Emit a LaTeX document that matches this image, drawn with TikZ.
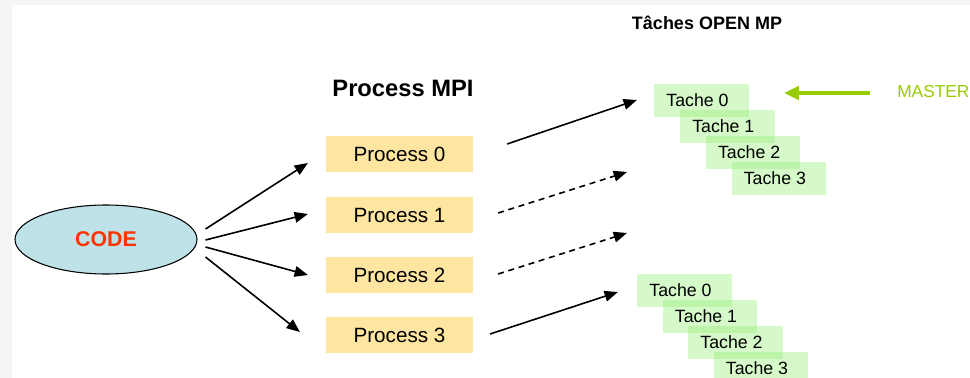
\documentclass[tikz,border=0pt]{standalone}
\usepackage{fontspec}
\setmainfont{Liberation Sans}
\usetikzlibrary{shapes.geometric,arrows.meta,calc}
\definecolor{codefill}{RGB}{190,226,232}
\definecolor{codered}{RGB}{255,51,0}
\definecolor{procfill}{RGB}{255,230,160}
\definecolor{tachefill}{RGB}{150,240,120}
\definecolor{master}{RGB}{153,204,0}
\definecolor{edge}{RGB}{245,245,245}

\tikzset{
  procbox/.style={fill=procfill,minimum width=110pt,minimum height=27pt,inner sep=0pt,font=\fontsize{15.5}{18}\selectfont},
  tachebox/.style={fill=tachefill,fill opacity=0.4,text opacity=1,minimum width=71pt,minimum height=24.75pt,inner sep=0pt,font=\fontsize{13.3}{16}\selectfont},
  arr/.style={line width=1.2pt,-{Triangle[length=10pt,width=8pt]}},
  darr/.style={arr,dash pattern=on 4.5pt off 3.5pt},
}

\begin{document}
\begin{tikzpicture}[x=0.75pt,y=0.75pt,yscale=-1,xscale=1]
\useasboundingbox (0,0) rectangle (970,378);
% light frame on top and left
\fill[edge] (0,0) rectangle (970,5);
\fill[edge] (0,0) rectangle (12,378);

%Shape: Ellipse
\node[ellipse,draw,line width=0.8pt,fill=codefill,minimum width=136.5pt,minimum height=51.75pt,inner sep=0pt,text=codered,font=\bfseries\fontsize{16}{18}\selectfont] (code) at (106,239.5) {CODE};

% Text Node
\node[font=\bfseries\fontsize{17.8}{20}\selectfont] (mpi) at (403,88) {Process MPI};
% Text Node
\node[font=\bfseries\fontsize{13.5}{16}\selectfont] (omp) at (707,23) {Tâches OPEN MP};

% MPI processes
\foreach \i/\y in {0/154,1/215,2/275,3/335}
  \node[procbox] (p\i) at (399.5,\y) {Process \i};

% OpenMP tasks, two stacks
\foreach \i in {0,...,3} {
  \node[tachebox] (ta\i) at ({701.5+25.8*\i},{100.5+26*\i}) {Tache \i\kern6pt};
  \node[tachebox] (tb\i) at ({684.5+25.5*\i},{290.5+26*\i}) {Tache \i\kern6pt};
}

% Text Node
\node[anchor=west,inner sep=0pt,text=master,font=\fontsize{13}{15}\selectfont] (mtext) at (897,92) {MASTER};
\draw[master,line width=3pt,-{Triangle[length=11pt,width=10pt]}] ($(mtext.west)+(-27,1)$) -- ($(ta0.east)+(35,-7.5)$);

% CODE to processes
\draw[arr] ($(code.east)+(8,-10.5)$) -- ($(p0.west)+(-18,9)$);
\draw[arr] ($(code.east)+(8,0.5)$) -- ($(p1.west)+(-18,-1)$);
\draw[arr] ($(code.east)+(8,7.5)$) -- ($(p2.west)+(-18,0)$);
\draw[arr] ($(code.east)+(8,17.5)$) -- ($(p3.west)+(-26,-3)$);

% processes to tasks
\coordinate (d1) at (627,172);
\coordinate (d2) at (627,233);
\draw[arr] ($(p0.east)+(34,-10)$) -- ($(ta0.west)+(-17,-0.5)$);
\draw[darr] ($(p1.east)+(25,-2)$) -- (d1);
\draw[darr] ($(p2.east)+(25,-1)$) -- (d2);
\draw[arr] ($(p3.east)+(17,-1)$) -- ($(tb0.west)+(-19,1.5)$);

\end{tikzpicture}
\end{document}
